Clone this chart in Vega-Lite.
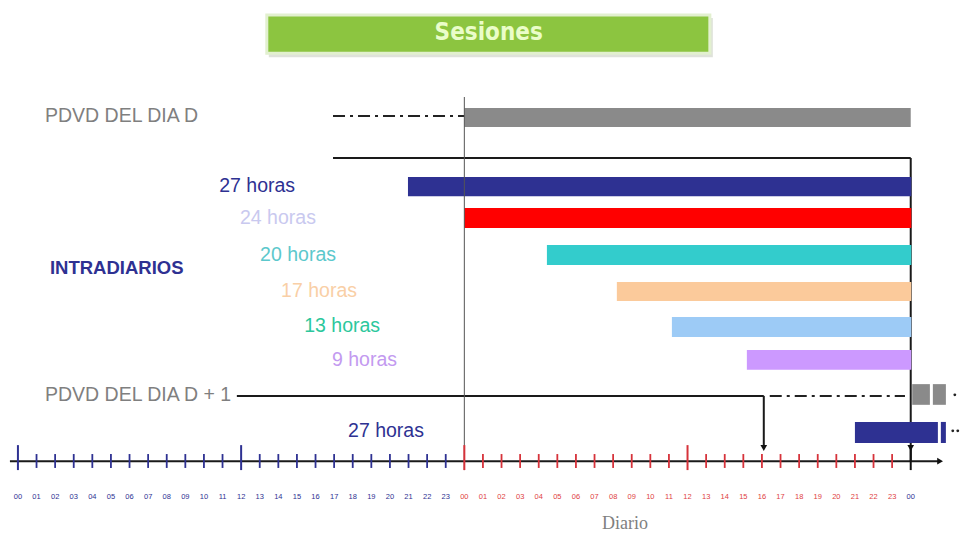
{
  "$schema": "https://vega.github.io/schema/vega-lite/v6.json",
  "width": 960,
  "height": 535,
  "autosize": {"type": "none"},
  "padding": 0,
  "background": "white",
  "config": {"view": {"stroke": null}},
  "datasets": {
    "titulo": [{"texto": "Sesiones", "x": 13.38, "x2": 37.2, "y": 0.42, "y2": 1.49, "xm": 25.31, "ym": 0.92}],
    "barras": [
      {"serie": "PDVD D", "x": 24, "x2": 48, "y": 3.03, "y2": 3.56},
      {"serie": "27 horas", "x": 20.97, "x2": 48.03, "y": 4.96, "y2": 5.5},
      {"serie": "24 horas", "x": 24, "x2": 48.03, "y": 5.83, "y2": 6.39},
      {"serie": "20 horas", "x": 28.44, "x2": 48.03, "y": 6.87, "y2": 7.43},
      {"serie": "17 horas", "x": 32.2, "x2": 48.03, "y": 7.91, "y2": 8.44},
      {"serie": "13 horas", "x": 35.16, "x2": 48.03, "y": 8.89, "y2": 9.45},
      {"serie": "9 horas", "x": 39.19, "x2": 48.03, "y": 9.81, "y2": 10.37},
      {"serie": "PDVD D+1", "x": 48.08, "x2": 49.03, "y": 10.77, "y2": 11.35},
      {"serie": "PDVD D+1", "x": 49.19, "x2": 49.89, "y": 10.77, "y2": 11.35},
      {"serie": "27 horas D+1", "x": 45.0, "x2": 49.46, "y": 11.83, "y2": 12.42},
      {"serie": "27 horas D+1", "x": 49.62, "x2": 49.89, "y": 11.83, "y2": 12.42}
    ],
    "lineas": [
      {"x": 16.94, "x2": 48, "y": 4.43, "y2": 4.43},
      {"x": 48, "x2": 48, "y": 4.43, "y2": 12.93},
      {"x": 11.77, "x2": 40.1, "y": 11.1, "y2": 11.1},
      {"x": 40.1, "x2": 40.1, "y": 11.1, "y2": 12.5},
      {"x": -0.43, "x2": 49.5, "y": 12.93, "y2": 12.93}
    ],
    "discontinuas": [
      {"x": 16.94, "x2": 24, "y": 3.25, "y2": 3.25},
      {"x": 40.42, "x2": 47.69, "y": 11.1, "y2": 11.1}
    ],
    "guia": [{"x": 24, "x2": 24, "y": 2.72, "y2": 13.18}],
    "flechas": [
      {"forma": "triangle-down", "x": 40.1, "y": 12.56},
      {"forma": "triangle-down", "x": 48, "y": 12.56},
      {"forma": "triangle-right", "x": 49.58, "y": 12.93}
    ],
    "puntos": [
      {"x": 50.37, "y": 11.07},
      {"x": 50.26, "y": 12.08},
      {"x": 50.53, "y": 12.08}
    ],
    "etiquetas": [
      {"texto": "PDVD DEL DIA D", "serie": "PDVD", "x": 1.455, "y": 3.25, "lado": "izq"},
      {"texto": "PDVD DEL DIA D + 1", "serie": "PDVD", "x": 1.455, "y": 11.07, "lado": "izq"},
      {"texto": "INTRADIARIOS", "serie": "INTRADIARIOS", "x": 1.72, "y": 7.51, "lado": "izq"},
      {"texto": "27 horas", "serie": "27 horas", "x": 14.9, "y": 5.21, "lado": "der"},
      {"texto": "24 horas", "serie": "24 horas", "x": 16.02, "y": 6.11, "lado": "der"},
      {"texto": "20 horas", "serie": "20 horas", "x": 17.1, "y": 7.15, "lado": "der"},
      {"texto": "17 horas", "serie": "17 horas", "x": 18.23, "y": 8.16, "lado": "der"},
      {"texto": "13 horas", "serie": "13 horas", "x": 19.47, "y": 9.14, "lado": "der"},
      {"texto": "9 horas", "serie": "9 horas", "x": 20.38, "y": 10.09, "lado": "der"},
      {"texto": "27 horas", "serie": "27 horas", "x": 21.83, "y": 12.08, "lado": "der"}
    ],
    "horas": [
      {"h": 0, "lab": "00", "dia": "D-1"}, {"h": 1, "lab": "01", "dia": "D-1"}, {"h": 2, "lab": "02", "dia": "D-1"},
      {"h": 3, "lab": "03", "dia": "D-1"}, {"h": 4, "lab": "04", "dia": "D-1"}, {"h": 5, "lab": "05", "dia": "D-1"},
      {"h": 6, "lab": "06", "dia": "D-1"}, {"h": 7, "lab": "07", "dia": "D-1"}, {"h": 8, "lab": "08", "dia": "D-1"},
      {"h": 9, "lab": "09", "dia": "D-1"}, {"h": 10, "lab": "10", "dia": "D-1"}, {"h": 11, "lab": "11", "dia": "D-1"},
      {"h": 12, "lab": "12", "dia": "D-1"}, {"h": 13, "lab": "13", "dia": "D-1"}, {"h": 14, "lab": "14", "dia": "D-1"},
      {"h": 15, "lab": "15", "dia": "D-1"}, {"h": 16, "lab": "16", "dia": "D-1"}, {"h": 17, "lab": "17", "dia": "D-1"},
      {"h": 18, "lab": "18", "dia": "D-1"}, {"h": 19, "lab": "19", "dia": "D-1"}, {"h": 20, "lab": "20", "dia": "D-1"},
      {"h": 21, "lab": "21", "dia": "D-1"}, {"h": 22, "lab": "22", "dia": "D-1"}, {"h": 23, "lab": "23", "dia": "D-1"},
      {"h": 24, "lab": "00", "dia": "D"}, {"h": 25, "lab": "01", "dia": "D"}, {"h": 26, "lab": "02", "dia": "D"},
      {"h": 27, "lab": "03", "dia": "D"}, {"h": 28, "lab": "04", "dia": "D"}, {"h": 29, "lab": "05", "dia": "D"},
      {"h": 30, "lab": "06", "dia": "D"}, {"h": 31, "lab": "07", "dia": "D"}, {"h": 32, "lab": "08", "dia": "D"},
      {"h": 33, "lab": "09", "dia": "D"}, {"h": 34, "lab": "10", "dia": "D"}, {"h": 35, "lab": "11", "dia": "D"},
      {"h": 36, "lab": "12", "dia": "D"}, {"h": 37, "lab": "13", "dia": "D"}, {"h": 38, "lab": "14", "dia": "D"},
      {"h": 39, "lab": "15", "dia": "D"}, {"h": 40, "lab": "16", "dia": "D"}, {"h": 41, "lab": "17", "dia": "D"},
      {"h": 42, "lab": "18", "dia": "D"}, {"h": 43, "lab": "19", "dia": "D"}, {"h": 44, "lab": "20", "dia": "D"},
      {"h": 45, "lab": "21", "dia": "D"}, {"h": 46, "lab": "22", "dia": "D"}, {"h": 47, "lab": "23", "dia": "D"},
      {"h": 48, "lab": "00", "dia": "D+1"}
    ]
  },
  "resolve": {"scale": {"color": "independent", "shape": "independent"}},
  "layer": [
    {
      "data": {"name": "titulo"},
      "mark": {"type": "rect", "fill": "#c9cfc2", "opacity": 0.6, "xOffset": 2, "yOffset": 3, "x2Offset": 3, "y2Offset": 4},
      "encoding": {
        "x": {"field": "x", "type": "quantitative", "scale": {"domain": [-0.964, 50.649], "nice": false, "zero": false}, "axis": null},
        "x2": {"field": "x2"},
        "y": {"field": "y", "type": "quantitative", "scale": {"domain": [0, 15], "reverse": true, "nice": false, "zero": false}, "axis": null},
        "y2": {"field": "y2"}
      }
    },
    {
      "data": {"name": "titulo"},
      "mark": {"type": "rect", "fill": "#8cc540", "stroke": "#e2f0cf", "strokeWidth": 3},
      "encoding": {
        "x": {"field": "x", "type": "quantitative", "scale": {"domain": [-0.964, 50.649], "nice": false, "zero": false}, "axis": null},
        "x2": {"field": "x2"},
        "y": {"field": "y", "type": "quantitative", "scale": {"domain": [0, 15], "reverse": true, "nice": false, "zero": false}, "axis": null},
        "y2": {"field": "y2"}
      }
    },
    {
      "data": {"name": "titulo"},
      "mark": {"type": "text", "font": "Liberation Sans Narrow, DejaVu Sans Condensed, Liberation Sans", "fontSize": 24, "fontWeight": "bold", "color": "#eafdc9", "align": "center", "baseline": "middle"},
      "encoding": {
        "x": {"field": "xm", "type": "quantitative", "scale": {"domain": [-0.964, 50.649], "nice": false, "zero": false}, "axis": null},
        "y": {"field": "ym", "type": "quantitative", "scale": {"domain": [0, 15], "reverse": true, "nice": false, "zero": false}, "axis": null},
        "text": {"field": "texto"}
      }
    },
    {
      "data": {"name": "lineas"},
      "mark": {"type": "rule", "color": "#1a1a1a", "strokeWidth": 2},
      "encoding": {
        "x": {"field": "x", "type": "quantitative", "scale": {"domain": [-0.964, 50.649], "nice": false, "zero": false}, "axis": null},
        "x2": {"field": "x2"},
        "y": {"field": "y", "type": "quantitative", "scale": {"domain": [0, 15], "reverse": true, "nice": false, "zero": false}, "axis": null},
        "y2": {"field": "y2"}
      }
    },
    {
      "data": {"name": "discontinuas"},
      "mark": {"type": "rule", "color": "#222222", "strokeWidth": 2, "strokeDash": [12, 5, 3, 5]},
      "encoding": {
        "x": {"field": "x", "type": "quantitative", "scale": {"domain": [-0.964, 50.649], "nice": false, "zero": false}, "axis": null},
        "x2": {"field": "x2"},
        "y": {"field": "y", "type": "quantitative", "scale": {"domain": [0, 15], "reverse": true, "nice": false, "zero": false}, "axis": null},
        "y2": {"field": "y2"}
      }
    },
    {
      "data": {"name": "barras"},
      "mark": {"type": "rect"},
      "encoding": {
        "x": {"field": "x", "type": "quantitative", "scale": {"domain": [-0.964, 50.649], "nice": false, "zero": false}, "axis": null},
        "x2": {"field": "x2"},
        "y": {"field": "y", "type": "quantitative", "scale": {"domain": [0, 15], "reverse": true, "nice": false, "zero": false}, "axis": null},
        "y2": {"field": "y2"},
        "color": {
          "field": "serie", "type": "nominal", "legend": null,
          "scale": {
            "domain": ["PDVD D", "27 horas", "24 horas", "20 horas", "17 horas", "13 horas", "9 horas", "PDVD D+1", "27 horas D+1"],
            "range": ["#8a8a8a", "#2e3192", "#ff0000", "#33cccc", "#fbca9b", "#9dcbf6", "#cc99ff", "#8a8a8a", "#2e3192"]
          }
        }
      }
    },
    {
      "data": {"name": "guia"},
      "mark": {"type": "rule", "color": "#555555", "strokeWidth": 1},
      "encoding": {
        "x": {"field": "x", "type": "quantitative", "scale": {"domain": [-0.964, 50.649], "nice": false, "zero": false}, "axis": null},
        "y": {"field": "y", "type": "quantitative", "scale": {"domain": [0, 15], "reverse": true, "nice": false, "zero": false}, "axis": null},
        "y2": {"field": "y2"}
      }
    },
    {
      "data": {"name": "horas"},
      "transform": [{"filter": "datum.h % 12 != 0"}],
      "mark": {"type": "rule", "strokeWidth": 1.8},
      "encoding": {
        "x": {"field": "h", "type": "quantitative", "scale": {"domain": [-0.964, 50.649], "nice": false, "zero": false}, "axis": null},
        "y": {"datum": 12.73, "type": "quantitative", "scale": {"domain": [0, 15], "reverse": true, "nice": false, "zero": false}, "axis": null},
        "y2": {"datum": 13.12},
        "color": {"field": "dia", "type": "nominal", "legend": null, "scale": {"domain": ["D-1", "D", "D+1"], "range": ["#2e3192", "#d6323a", "#111111"]}}
      }
    },
    {
      "data": {"name": "horas"},
      "transform": [{"filter": "datum.h % 12 == 0"}],
      "mark": {"type": "rule", "strokeWidth": 2},
      "encoding": {
        "x": {"field": "h", "type": "quantitative", "scale": {"domain": [-0.964, 50.649], "nice": false, "zero": false}, "axis": null},
        "y": {"datum": 12.48, "type": "quantitative", "scale": {"domain": [0, 15], "reverse": true, "nice": false, "zero": false}, "axis": null},
        "y2": {"datum": 13.18},
        "color": {"field": "dia", "type": "nominal", "legend": null, "scale": {"domain": ["D-1", "D", "D+1"], "range": ["#2e3192", "#d6323a", "#111111"]}}
      }
    },
    {
      "data": {"name": "horas"},
      "mark": {"type": "text", "font": "Liberation Sans", "fontSize": 7.5, "align": "center", "baseline": "middle"},
      "encoding": {
        "x": {"field": "h", "type": "quantitative", "scale": {"domain": [-0.964, 50.649], "nice": false, "zero": false}, "axis": null},
        "y": {"datum": 13.93, "type": "quantitative", "scale": {"domain": [0, 15], "reverse": true, "nice": false, "zero": false}, "axis": null},
        "text": {"field": "lab"},
        "color": {"field": "dia", "type": "nominal", "legend": null, "scale": {"domain": ["D-1", "D", "D+1"], "range": ["#2e3192", "#e0413f", "#2e3192"]}}
      }
    },
    {
      "data": {"name": "flechas"},
      "mark": {"type": "point", "filled": true, "size": 45, "color": "#111111", "opacity": 1},
      "encoding": {
        "x": {"field": "x", "type": "quantitative", "scale": {"domain": [-0.964, 50.649], "nice": false, "zero": false}, "axis": null},
        "y": {"field": "y", "type": "quantitative", "scale": {"domain": [0, 15], "reverse": true, "nice": false, "zero": false}, "axis": null},
        "shape": {"field": "forma", "type": "nominal", "legend": null, "scale": null}
      }
    },
    {
      "data": {"name": "puntos"},
      "mark": {"type": "point", "filled": true, "size": 8, "color": "#222222", "shape": "circle", "opacity": 1},
      "encoding": {
        "x": {"field": "x", "type": "quantitative", "scale": {"domain": [-0.964, 50.649], "nice": false, "zero": false}, "axis": null},
        "y": {"field": "y", "type": "quantitative", "scale": {"domain": [0, 15], "reverse": true, "nice": false, "zero": false}, "axis": null}
      }
    },
    {
      "data": {"name": "etiquetas"},
      "transform": [{"filter": "datum.lado == 'izq' && datum.serie == 'PDVD'"}],
      "mark": {"type": "text", "font": "Liberation Sans", "fontSize": 19.5, "align": "left", "baseline": "middle", "color": "#7f7f7f"},
      "encoding": {
        "x": {"field": "x", "type": "quantitative", "scale": {"domain": [-0.964, 50.649], "nice": false, "zero": false}, "axis": null},
        "y": {"field": "y", "type": "quantitative", "scale": {"domain": [0, 15], "reverse": true, "nice": false, "zero": false}, "axis": null},
        "text": {"field": "texto"}
      }
    },
    {
      "data": {"name": "etiquetas"},
      "transform": [{"filter": "datum.serie == 'INTRADIARIOS'"}],
      "mark": {"type": "text", "font": "Liberation Sans", "fontSize": 18.5, "fontWeight": "bold", "align": "left", "baseline": "middle", "color": "#2e3192"},
      "encoding": {
        "x": {"field": "x", "type": "quantitative", "scale": {"domain": [-0.964, 50.649], "nice": false, "zero": false}, "axis": null},
        "y": {"field": "y", "type": "quantitative", "scale": {"domain": [0, 15], "reverse": true, "nice": false, "zero": false}, "axis": null},
        "text": {"field": "texto"}
      }
    },
    {
      "data": {"name": "etiquetas"},
      "transform": [{"filter": "datum.lado == 'der'"}],
      "mark": {"type": "text", "font": "Liberation Sans", "fontSize": 19.5, "align": "right", "baseline": "middle"},
      "encoding": {
        "x": {"field": "x", "type": "quantitative", "scale": {"domain": [-0.964, 50.649], "nice": false, "zero": false}, "axis": null},
        "y": {"field": "y", "type": "quantitative", "scale": {"domain": [0, 15], "reverse": true, "nice": false, "zero": false}, "axis": null},
        "text": {"field": "texto"},
        "color": {
          "field": "serie", "type": "nominal", "legend": null,
          "scale": {
            "domain": ["27 horas", "24 horas", "20 horas", "17 horas", "13 horas", "9 horas"],
            "range": ["#2e3192", "#c9c9ef", "#5cc8cc", "#f9cfa6", "#2cc79c", "#c39af0"]
          }
        }
      }
    },
    {
      "data": {"values": [{"texto": "Diario", "x": 32.64, "y": 14.68}]},
      "mark": {"type": "text", "font": "Liberation Serif", "fontSize": 18, "align": "center", "baseline": "middle", "color": "#808080"},
      "encoding": {
        "x": {"field": "x", "type": "quantitative", "scale": {"domain": [-0.964, 50.649], "nice": false, "zero": false}, "axis": null},
        "y": {"field": "y", "type": "quantitative", "scale": {"domain": [0, 15], "reverse": true, "nice": false, "zero": false}, "axis": null},
        "text": {"field": "texto"}
      }
    }
  ]
}
